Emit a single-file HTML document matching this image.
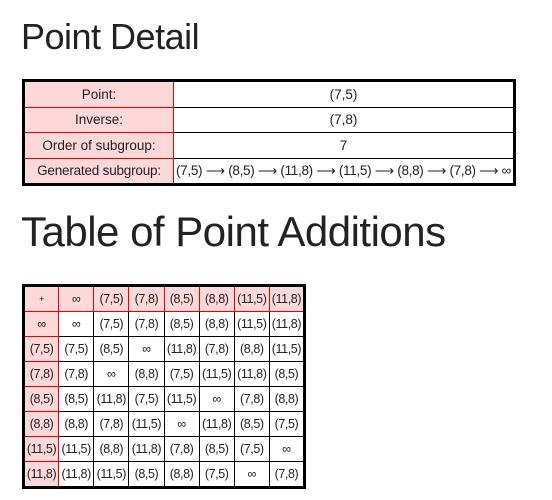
<!DOCTYPE html>
<html><head><style>
body{margin:0;background:#fff;font-family:"Liberation Sans",sans-serif;color:#222;width:552px;height:500px;position:relative;overflow:hidden}
h1{position:absolute;margin:0;font-weight:300;color:#222;white-space:nowrap;letter-spacing:-0.5px}
table{position:absolute;border-collapse:collapse;border:3px solid #000;table-layout:fixed}
td{border:1px solid #000;text-align:center;padding:0;white-space:nowrap;overflow:hidden}
td.h{background:#ffd9d9;border-color:#e00}
#t1 td{height:24.5px;font-size:13.5px}
#t2 td{height:24px;font-size:12.5px;letter-spacing:-0.4px}
</style></head><body>
<h1 style="left:21px;top:16px;font-size:36px">Point Detail</h1>
<table id="t1" style="left:22px;top:79px;width:494px">
<col style="width:150px"><col>
<tr><td class="h">Point:</td><td>(7,5)</td></tr>
<tr><td class="h">Inverse:</td><td>(7,8)</td></tr>
<tr><td class="h">Order of subgroup:</td><td>7</td></tr>
<tr><td class="h" style="letter-spacing:-0.2px">Generated subgroup:</td><td style="font-size:13.5px;letter-spacing:-0.3px">(7,5) ⟶ (8,5) ⟶ (11,8) ⟶ (11,5) ⟶ (8,8) ⟶ (7,8) ⟶ ∞</td></tr>
</table>
<h1 style="left:21px;top:208px;font-size:42px">Table of Point Additions</h1>
<table id="t2" style="left:22px;top:284px;width:284px">
<tr><td class="h" style="font-size:9px">+</td><td class="h">∞</td><td class="h">(7,5)</td><td class="h">(7,8)</td><td class="h">(8,5)</td><td class="h">(8,8)</td><td class="h">(11,5)</td><td class="h">(11,8)</td></tr>
<tr><td class="h">∞</td><td>∞</td><td>(7,5)</td><td>(7,8)</td><td>(8,5)</td><td>(8,8)</td><td>(11,5)</td><td>(11,8)</td></tr>
<tr><td class="h">(7,5)</td><td>(7,5)</td><td>(8,5)</td><td>∞</td><td>(11,8)</td><td>(7,8)</td><td>(8,8)</td><td>(11,5)</td></tr>
<tr><td class="h">(7,8)</td><td>(7,8)</td><td>∞</td><td>(8,8)</td><td>(7,5)</td><td>(11,5)</td><td>(11,8)</td><td>(8,5)</td></tr>
<tr><td class="h">(8,5)</td><td>(8,5)</td><td>(11,8)</td><td>(7,5)</td><td>(11,5)</td><td>∞</td><td>(7,8)</td><td>(8,8)</td></tr>
<tr><td class="h">(8,8)</td><td>(8,8)</td><td>(7,8)</td><td>(11,5)</td><td>∞</td><td>(11,8)</td><td>(8,5)</td><td>(7,5)</td></tr>
<tr><td class="h">(11,5)</td><td>(11,5)</td><td>(8,8)</td><td>(11,8)</td><td>(7,8)</td><td>(8,5)</td><td>(7,5)</td><td>∞</td></tr>
<tr><td class="h">(11,8)</td><td>(11,8)</td><td>(11,5)</td><td>(8,5)</td><td>(8,8)</td><td>(7,5)</td><td>∞</td><td>(7,8)</td></tr>
</table>
</body></html>
